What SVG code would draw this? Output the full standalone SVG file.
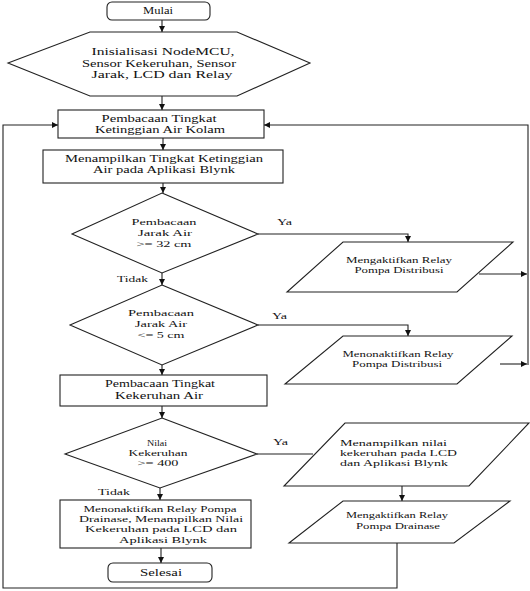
<svg xmlns="http://www.w3.org/2000/svg" width="530" height="591" viewBox="0 0 530 591">
<style>
.s{fill:#fff;stroke:#222;stroke-width:1.1}
.c{fill:none;stroke:#222;stroke-width:1.1}
text{font-family:"Liberation Serif","Times New Roman",serif;fill:#111;font-size:10px}
.m{text-anchor:middle}
.sm{font-size:9px}
</style>
<defs>
<marker id="ah" markerWidth="6" markerHeight="6" refX="6" refY="3" orient="auto" markerUnits="userSpaceOnUse">
<path d="M0,0 L6,3 L0,6 z" fill="#111"/>
</marker>
</defs>
<rect width="530" height="591" fill="#fff"/>

<g id="connectors">
<line class="c" x1="162" y1="20" x2="162" y2="32" marker-end="url(#ah)"/>
<line class="c" x1="162" y1="96" x2="162" y2="110" marker-end="url(#ah)"/>
<line class="c" x1="163" y1="138" x2="163" y2="150" marker-end="url(#ah)"/>
<line class="c" x1="163" y1="183" x2="163" y2="193" marker-end="url(#ah)"/>
<line class="c" x1="162" y1="273" x2="162" y2="285" marker-end="url(#ah)"/>
<line class="c" x1="162" y1="365" x2="162" y2="375" marker-end="url(#ah)"/>
<line class="c" x1="162" y1="406" x2="162" y2="418" marker-end="url(#ah)"/>
<line class="c" x1="160" y1="488" x2="160" y2="500" marker-end="url(#ah)"/>
<line class="c" x1="161" y1="548" x2="161" y2="563" marker-end="url(#ah)"/>
<polyline class="c" points="258,234 408,234 408,242" marker-end="url(#ah)"/>
<polyline class="c" points="258,325 408,325 408,336" marker-end="url(#ah)"/>
<line class="c" x1="257" y1="454" x2="313" y2="454"/>
<line class="c" x1="402" y1="486" x2="402" y2="501" marker-end="url(#ah)"/>
<line class="c" x1="479" y1="274" x2="527" y2="274" marker-end="url(#ah)"/>
<line class="c" x1="500" y1="364" x2="527" y2="364" marker-end="url(#ah)"/>
<polyline class="c" points="528,365 528,125 264,125" marker-end="url(#ah)"/>
<polyline class="c" points="397,543 397,588 3,588 3,125 58,125" marker-end="url(#ah)"/>
<text x="117" y="282" textLength="31" lengthAdjust="spacingAndGlyphs" class="sm">Tidak</text>
<text x="98" y="495" textLength="32" lengthAdjust="spacingAndGlyphs" class="sm">Tidak</text>
<text x="277" y="225" textLength="15" lengthAdjust="spacingAndGlyphs" class="sm">Ya</text>
<text x="272" y="319" textLength="15" lengthAdjust="spacingAndGlyphs" class="sm">Ya</text>
<text x="273" y="445" textLength="15" lengthAdjust="spacingAndGlyphs" class="sm">Ya</text>
</g>

<g id="mulai">
<rect class="s" x="107" y="2" width="103" height="18" rx="5"/>
<text class="m" x="158" y="14" textLength="30" lengthAdjust="spacingAndGlyphs">Mulai</text>
</g>

<g id="inisialisasi">
<polygon class="s" points="8,63 90,32 237,32 310,63 237,96 90,96"/>
<text class="m" x="163" y="55" textLength="143" lengthAdjust="spacingAndGlyphs">Inisialisasi NodeMCU,</text>
<text class="m" x="159" y="66.5" textLength="154" lengthAdjust="spacingAndGlyphs">Sensor Kekeruhan, Sensor</text>
<text class="m" x="162" y="78" textLength="141" lengthAdjust="spacingAndGlyphs">Jarak, LCD dan Relay</text>
</g>

<g id="baca-tinggi">
<rect class="s" x="58" y="110" width="206" height="28"/>
<text class="m" x="159" y="122" textLength="115" lengthAdjust="spacingAndGlyphs">Pembacaan Tingkat</text>
<text class="m" x="160" y="133" textLength="130" lengthAdjust="spacingAndGlyphs">Ketinggian Air Kolam</text>
</g>

<g id="tampil-tinggi">
<rect class="s" x="43" y="150" width="240" height="33"/>
<text class="m" x="164" y="162" textLength="198" lengthAdjust="spacingAndGlyphs">Menampilkan Tingkat Ketinggian</text>
<text class="m" x="164" y="173" textLength="142" lengthAdjust="spacingAndGlyphs">Air pada Aplikasi Blynk</text>
</g>

<g id="cek-32">
<polygon class="s" points="162,193 258,234 162,273 72,234"/>
<text class="m sm" x="164" y="225" textLength="65" lengthAdjust="spacingAndGlyphs">Pembacaan</text>
<text class="m sm" x="165" y="236" textLength="54" lengthAdjust="spacingAndGlyphs">Jarak Air</text>
<text class="m sm" x="164" y="247" textLength="55" lengthAdjust="spacingAndGlyphs">&gt;= 32 cm</text>
</g>

<g id="relay-on">
<polygon class="s" points="343,242 513,242 457,292 287,292"/>
<text class="m sm" x="399" y="263" textLength="106" lengthAdjust="spacingAndGlyphs">Mengaktifkan Relay</text>
<text class="m sm" x="399" y="273" textLength="89" lengthAdjust="spacingAndGlyphs">Pompa Distribusi</text>
</g>

<g id="cek-5">
<polygon class="s" points="162,285 258,325 162,365 70,325"/>
<text class="m sm" x="161" y="316" textLength="66" lengthAdjust="spacingAndGlyphs">Pembacaan</text>
<text class="m sm" x="161" y="327" textLength="52" lengthAdjust="spacingAndGlyphs">Jarak Air</text>
<text class="m sm" x="161" y="338" textLength="47" lengthAdjust="spacingAndGlyphs">&lt;= 5 cm</text>
</g>

<g id="relay-off">
<polygon class="s" points="343,336 512,336 457,384 285,384"/>
<text class="m sm" x="398" y="357" textLength="111" lengthAdjust="spacingAndGlyphs">Menonaktifkan Relay</text>
<text class="m sm" x="397" y="367" textLength="90" lengthAdjust="spacingAndGlyphs">Pompa Distribusi</text>
</g>

<g id="baca-keruh">
<rect class="s" x="60" y="375" width="207" height="31"/>
<text class="m" x="160" y="387" textLength="110" lengthAdjust="spacingAndGlyphs">Pembacaan Tingkat</text>
<text class="m" x="159" y="399" textLength="88" lengthAdjust="spacingAndGlyphs">Kekeruhan Air</text>
</g>

<g id="cek-400">
<polygon class="s" points="162,418 257,454 160,488 65,454"/>
<text class="m sm" x="157" y="446" textLength="20" lengthAdjust="spacingAndGlyphs">Nilai</text>
<text class="m sm" x="158" y="456" textLength="59" lengthAdjust="spacingAndGlyphs">Kekeruhan</text>
<text class="m sm" x="158" y="466" textLength="41" lengthAdjust="spacingAndGlyphs">&gt;= 400</text>
</g>

<g id="tampil-keruh">
<polygon class="s" points="345,423 529,423 469,486 284,486"/>
<text class="sm" x="340" y="446" textLength="107" lengthAdjust="spacingAndGlyphs">Menampilkan nilai</text>
<text class="sm" x="340" y="456" textLength="117" lengthAdjust="spacingAndGlyphs">kekeruhan pada LCD</text>
<text class="sm" x="340" y="466" textLength="108" lengthAdjust="spacingAndGlyphs">dan Aplikasi Blynk</text>
</g>

<g id="drainase-on">
<polygon class="s" points="343,501 510,501 454,543 289,543"/>
<text class="m sm" x="397" y="518" textLength="102" lengthAdjust="spacingAndGlyphs">Mengaktifkan Relay</text>
<text class="m sm" x="398" y="529" textLength="84" lengthAdjust="spacingAndGlyphs">Pompa Drainase</text>
</g>

<g id="drainase-off">
<rect class="s" x="60" y="500" width="191" height="48"/>
<text class="m sm" x="160" y="512" textLength="153" lengthAdjust="spacingAndGlyphs">Menonaktifkan Relay Pompa</text>
<text class="m sm" x="161" y="522" textLength="164" lengthAdjust="spacingAndGlyphs">Drainase, Menampilkan Nilai</text>
<text class="m sm" x="161" y="532" textLength="152" lengthAdjust="spacingAndGlyphs">Kekeruhan pada LCD dan</text>
<text class="m sm" x="163" y="543" textLength="88" lengthAdjust="spacingAndGlyphs">Aplikasi Blynk</text>
</g>

<g id="selesai">
<rect class="s" x="108" y="563" width="104" height="19" rx="5"/>
<text class="m" x="161" y="576" textLength="42" lengthAdjust="spacingAndGlyphs">Selesai</text>
</g>
</svg>
